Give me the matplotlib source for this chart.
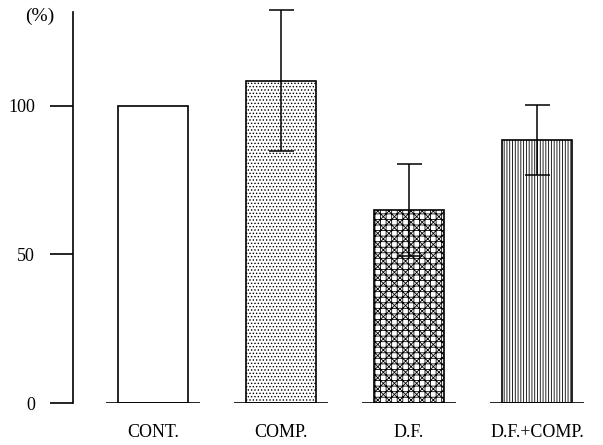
import matplotlib.pyplot as plt
import numpy as np

groups = ['CONT.', 'COMP.', 'D.F.', 'D.F.+COMP.']
values = [100, 108.5, 65, 88.6]
errors = [0, 23.7, 15.5, 11.8]
hatches = ['', '.....', 'xxx+++', '||||||']

plt.rcParams['font.family'] = ['Liberation Serif', 'DejaVu Serif']
plt.rcParams['hatch.linewidth'] = 0.6

fig = plt.figure(figsize=(6.03, 4.45), dpi=100)
ax = fig.add_axes([73 / 603, 42 / 445, 530 / 603, 391 / 445])

x = np.arange(len(groups))
width = 0.547
ax.bar(x, values, width=width, color='white', edgecolor='black',
       linewidth=1.2, hatch=hatches, zorder=2)
for xi, v, e in zip(x, values, errors):
    if e > 0:
        eb = ax.errorbar(xi, v, yerr=e, color='black', lw=1.1, capsize=9,
                         capthick=1.1, zorder=3)
        for art in eb.lines[1] + eb.lines[2]:
            art.set_clip_on(False)

# short baseline under each bar
ax.hlines(np.zeros(len(x)), x - 0.37, x + 0.37, color='black', lw=1.2, zorder=3)

ax.set_xlim(-0.625, 3.516)
ax.set_ylim(0, 131.6)
for s in ['top', 'right', 'bottom']:
    ax.spines[s].set_visible(False)
ax.spines['left'].set_linewidth(1.2)

ax.set_yticks([0, 50, 100])
ax.set_yticklabels(['0', '50', '100'], fontsize=13)
ax.tick_params(axis='y', direction='out', length=16.5, width=1.2, pad=11)
ax.set_xticks(x)
ax.set_xticklabels(groups, fontsize=13)
ax.tick_params(axis='x', length=0, pad=15)

fig.text(40 / 603, 1 - 16 / 445, '(%)', fontsize=14, ha='center', va='center')

fig.savefig('out.png', dpi=100)
